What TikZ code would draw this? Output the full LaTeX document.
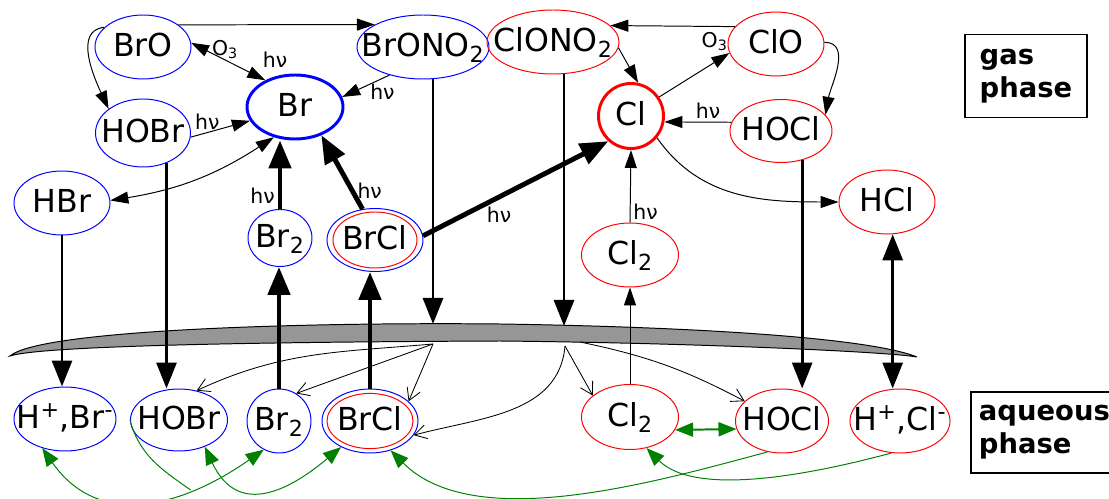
\documentclass[tikz,border=0pt]{standalone}
\usepackage{fontspec}
\setmainfont{DejaVu Sans}
\usetikzlibrary{shapes,arrows.meta,positioning}
\definecolor{dropgray}{RGB}{150,150,150}
\definecolor{aqgreen}{RGB}{0,128,0}
\tikzstyle{spec}=[ellipse,draw,inner sep=-0.6cm,line width=0.7pt,minimum width=2.4cm,minimum height=1.6cm,text height=16pt,text depth=3pt,font=\fontsize{22.5pt}{27pt}\selectfont]
\tikzstyle{brspec}=[spec,draw=blue]
\tikzstyle{clspec}=[spec,draw=red]
\tikzstyle{phasebox}=[rectangle,draw,line width=1.4pt,align=left,inner xsep=0.36cm,minimum height=2.075cm,font=\fontsize{19.5pt}{23.4pt}\selectfont\bfseries]
\tikzstyle{lbl}=[font=\fontsize{14.5pt}{16pt}\selectfont,inner sep=2pt]
\tikzstyle{arr}=[->,>={Triangle[length=0.45cm,width=0.3cm]},line width=0.7pt]
\tikzstyle{arrm}=[->,>={Triangle[length=0.65cm,width=0.5cm]},line width=2.1pt]
\tikzstyle{arrb}=[->,>={Triangle[length=0.7cm,width=0.55cm]},line width=3.5pt]
\tikzstyle{darr}=[->,>={Straight Barb[length=0.3cm,width=0.35cm]},line width=0.6pt]
\tikzstyle{garr}=[->,>={Triangle[length=0.45cm,width=0.35cm]},line width=0.7pt,aqgreen]

\begin{document}
\begin{tikzpicture}[node distance=2.5cm]
\useasboundingbox (0,0) rectangle (27.725,-12.475);
\filldraw[fill=dropgray,line width=0.7pt] (0.25,-8.9) .. controls (1.0,-8.25) and (7.5,-8.05) .. (12.5,-8.1) .. controls (17.5,-8.175) and (21.75,-8.45) .. (22.925,-8.925) .. controls (22.25,-8.8) and (17.5,-8.575) .. (12.5,-8.525) .. controls (6.25,-8.55) and (1.0,-8.65) .. cycle;
\coordinate (dropA) at (10.825,-8.1);
\coordinate (dropB) at (14.1,-8.15);
\coordinate (dropC) at (10.825,-8.6);
\coordinate (dropD) at (14.125,-8.65);
\coordinate (dropE) at (14.5,-8.55);
\node[brspec] (BrO) at (3.575,-1.175) {BrO};
\node[brspec, right of=BrO, xshift=4.5cm, minimum width=3.3cm] (BrONO2) {BrONO\textsubscript{2}};
\node[clspec, right of=BrONO2, xshift=0.75cm, yshift=0.125cm, minimum width=3.3cm] (ClONO2) {ClONO\textsubscript{2}};
\node[clspec, right of=ClONO2, xshift=3.075cm, yshift=-0.05cm] (ClO) {ClO};
\node[brspec, below of=BrO, yshift=0.35cm, minimum width=2.375cm, minimum height=1.7cm] (HOBrg) {HOBr};
\node[brspec, right of=HOBrg, xshift=1.3cm, yshift=0.65cm, line width=2.1pt] (Br) {Br};
\node[brspec, below of=HOBrg, xshift=-2.025cm, yshift=0.75cm] (HBr) {HBr};
\node[brspec, below of=Br, xshift=-0.375cm, yshift=-0.775cm, minimum width=1.6cm, minimum height=1.425cm] (Br2g) {Br\textsubscript{2}};
\node[brspec, right of=Br2g, xshift=-0.125cm, yshift=-0.05cm, minimum height=1.575cm] (BrClg) {BrCl};
\node[clspec, below of=ClONO2, xshift=1.95cm, yshift=0.65cm, line width=2.1pt, minimum width=1.625cm, minimum height=1.625cm] (Cl) {Cl};
\node[clspec, below of=ClO, xshift=0.125cm, yshift=0.325cm, minimum width=2.55cm, minimum height=1.575cm] (HOClg) {HOCl};
\node[clspec, below of=Cl, xshift=-0.025cm, yshift=-0.975cm, minimum width=2.425cm] (Cl2g) {Cl\textsubscript{2}};
\node[clspec, below of=HOClg, xshift=2.65cm, yshift=0.725cm] (HCl) {HCl};
\node[brspec, below of=HBr, xshift=0.075cm, yshift=-2.9cm, minimum width=2.55cm] (HBraq) {H\textsuperscript{+},Br\textsuperscript{-}};
\node[brspec, right of=HBraq, xshift=0.35cm, yshift=-0.025cm, minimum width=2.425cm, minimum height=1.55cm] (HOBraq) {HOBr};
\node[brspec, right of=HOBraq, yshift=-0.025cm, minimum width=1.6cm] (Br2aq) {Br\textsubscript{2}};
\node[brspec, right of=Br2aq, xshift=-0.225cm] (BrClaq) {BrCl};
\node[clspec, below of=Cl2g, yshift=-1.55cm, minimum width=2.425cm, minimum height=1.625cm] (Cl2aq) {Cl\textsubscript{2}};
\node[clspec, right of=Cl2aq, xshift=1.3cm, yshift=-0.1cm, minimum width=2.325cm] (HOClaq) {HOCl};
\node[clspec, right of=HOClaq, xshift=0.45cm, minimum width=2.5cm] (HClaq) {H\textsuperscript{+},Cl\textsuperscript{-}};
\node[phasebox, right of=ClO, xshift=3.75cm, yshift=-0.8cm] (gasbox) {gas\\phase};
\node[phasebox, right of=HClaq, anchor=west, xshift=-0.75cm, yshift=-0.29cm, inner xsep=0.2cm, text width=3.5cm, minimum height=2.025cm] (aqbox) {aqueous\\phase};
\draw[red,line width=0.7pt] (BrClg.center) ellipse [x radius=1.05cm, y radius=0.7cm];
\draw[red,line width=0.7pt] (BrClaq.center) ellipse [x radius=1.075cm, y radius=0.69cm];
\draw[arr] (BrO.32) -- (BrONO2.155);
\draw[arr,<->] (BrO.5) -- node[lbl,pos=0.22,anchor=south west,inner sep=0pt,xshift=3pt,yshift=-6pt]{O\textsubscript{3}} node[lbl,at end,anchor=south west,inner sep=0pt,xshift=-2pt,yshift=9pt]{hν} (Br.138);
\draw[arr] (BrO.153) to[out=185,in=115] (HOBrg.145);
\draw[arr] (BrONO2.-140) -- node[lbl,pos=0.15,below=2pt]{hν} (Br.12);
\draw[arr] (HOBrg.-5) -- node[lbl,pos=0.28,above]{hν} (Br.197);
\draw[arr,<->] (Br.-125) to[bend left=12] (HBr.3);
\draw[arrb] (Br2g.north) -- node[lbl,pos=0.2,left]{hν} (Br2g.north |- Br.south);
\draw[arrb] (BrClg.112) -- node[lbl,pos=0.25,right]{hν} (Br.-47);
\draw[arrb] (BrClg.5) -- node[lbl,pos=0.41,below=3pt]{hν} (Cl.-132);
\draw[arr] (ClONO2.-5) -- (Cl.78);
\draw[arr] (ClO.157) -- (ClONO2.16);
\draw[arr] (Cl.34) -- node[lbl,at end,anchor=south east,inner sep=1pt]{O\textsubscript{3}} (ClO.191);
\draw[arr] (HOClg.170) -- node[lbl,pos=0.35,above]{hν} (Cl.-10);
\draw[arr] (ClO.2) to[out=0,in=80] (HOClg.20);
\draw[arr] (Cl.-40) to[out=-55,in=180] (HCl.west);
\draw[arr] (Cl2g.north) -- node[lbl,pos=0.15,right]{hν} (Cl.south);
\draw[arrm] (HBr.south) -- (HBr.south |- HBraq.north);
\draw[arrm] (HOBrg.-52) -- (HOBrg.-52 |- HOBraq.north);
\draw[arrm] (dropA |- BrONO2.south) -- (dropA);
\draw[arrm] (dropB |- ClONO2.south) -- (dropB);
\draw[arrm] (HOClg.-54) -- (HOClg.-54 |- HOClaq.north);
\draw[arrm,<->] (HCl.-80) -- (HCl.-80 |- HClaq.north);
\draw[arrb] (Br2aq.north) -- (Br2aq.north |- Br2g.south);
\draw[arrb] (BrClaq.north) -- (BrClaq.north |- BrClg.south);
\draw[arr] (Cl2aq.north) -- (Cl2g.south);
\draw[darr] (dropC) to[out=185,in=25] (HOBraq.59);
\draw[darr] (dropC) -- (Br2aq.58);
\draw[darr] (dropC) -- (BrClaq.27);
\draw[darr] (dropD) to[out=-95,in=15] (BrClaq.-18);
\draw[darr] (dropD) -- (Cl2aq.150);
\draw[darr] (dropE) to[bend left=8] (HOClaq.152);
\draw[garr,<->] (HBraq.-128) to[out=-55,in=-145,looseness=1.15] coordinate[pos=0.7] (jBr) (Br2aq.-118);
\draw[aqgreen,line width=0.7pt] (HOBraq.west) to[out=-75,in=145] (jBr);
\draw[garr,<->] (HOBraq.-46) to[out=-65,in=-140,looseness=1.4] (BrClaq.-138);
\draw[garr] (HOClaq.-115) to[out=195,in=-45,looseness=0.8] (BrClaq.-55);
\draw[garr] (HClaq.-105) to[out=-165,in=-45,looseness=0.75] (Cl2aq.-62);
\draw[garr,<->,line width=1.4pt] (Cl2aq.-16) -- (HOClaq.190);
\end{tikzpicture}
\end{document}
